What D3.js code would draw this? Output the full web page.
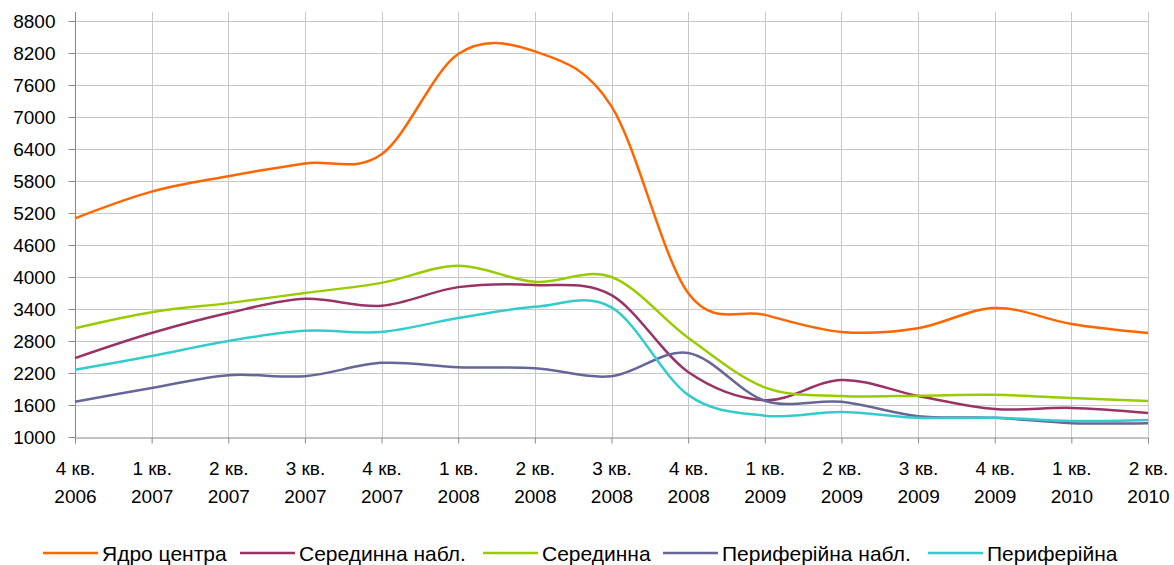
<!DOCTYPE html>
<html>
<head>
<meta charset="utf-8">
<script src="https://cdn.jsdelivr.net/npm/d3@7"></script>
<style>
  body { margin: 0; background: #fff; }
  text { font-family: "Liberation Sans", Arial, sans-serif; fill: #000; }
</style>
</head>
<body>
<div id="chart"></div>
<script>
const quarters = [`4 кв.`, `1 кв.`, `2 кв.`, `3 кв.`, `4 кв.`, `1 кв.`, `2 кв.`, `3 кв.`, `4 кв.`, `1 кв.`, `2 кв.`, `3 кв.`, `4 кв.`, `1 кв.`, `2 кв.`];
const years = [`2006`, `2007`, `2007`, `2007`, `2007`, `2008`, `2008`, `2008`, `2008`, `2009`, `2009`, `2009`, `2009`, `2010`, `2010`];
const yTicks = [1000, 1600, 2200, 2800, 3400, 4000, 4600, 5200, 5800, 6400, 7000, 7600, 8200, 8800];

const seriesNames = [`Ядро центра`, `Серединна набл.`, `Серединна`, `Периферійна набл.`, `Периферійна`];
const coreCenter = [5100, 5600, 5890, 6130, 6300, 8180, 8230, 7200, 3700, 3290, 2970, 3040, 3420, 3120, 2950];
const middleObs = [2480, 2950, 3325, 3590, 3460, 3810, 3850, 3660, 2220, 1690, 2070, 1770, 1525, 1545, 1450];
const middle = [3040, 3340, 3510, 3700, 3890, 4210, 3910, 4000, 2860, 1930, 1770, 1775, 1790, 1730, 1675];
const peripheryObs = [1660, 1920, 2160, 2140, 2390, 2310, 2290, 2140, 2575, 1680, 1660, 1390, 1360, 1260, 1260];
const periphery = [2260, 2520, 2800, 2990, 2970, 3230, 3440, 3430, 1790, 1400, 1470, 1360, 1360, 1300, 1320];
const colors = [`#FF6600`, `#993366`, `#99CC00`, `#666699`, `#33CCCC`];

const allSeries = [coreCenter, middleObs, middle, peripheryObs, periphery];

const width = 1174;
const height = 565;
const plotLeft = 75;
const plotRight = 1148;
const plotTop = 12;
const plotBottom = 437;

const svg = d3.select(`#chart`).append(`svg`)
  .attr(`width`, width)
  .attr(`height`, height);

const x = d3.scalePoint().domain(d3.range(quarters.length)).range([plotLeft, plotRight]);
const y = d3.scaleLinear().domain([1000, 8800]).range([plotBottom, plotTop + 9]);

// grid
svg.append(`g`).selectAll(`line`).data(yTicks.slice(1)).enter().append(`line`)
  .attr(`x1`, plotLeft).attr(`x2`, plotRight)
  .attr(`y1`, (d) => Math.round(y(d)) + 0.5).attr(`y2`, (d) => Math.round(y(d)) + 0.5)
  .attr(`stroke`, `#c8c8c8`).attr(`stroke-width`, 1);
svg.append(`g`).selectAll(`line`).data(d3.range(1, quarters.length)).enter().append(`line`)
  .attr(`x1`, (d) => Math.round(x(d)) + 0.5).attr(`x2`, (d) => Math.round(x(d)) + 0.5)
  .attr(`y1`, plotTop).attr(`y2`, plotBottom)
  .attr(`stroke`, `#c8c8c8`).attr(`stroke-width`, 1);

// axes
const yAxis = svg.append(`g`)
  .attr(`transform`, `translate(${plotLeft + 0.5},0)`)
  .call(d3.axisLeft(y).tickValues(yTicks).tickSize(7).tickFormat(d3.format(`d`)));
yAxis.select(`.domain`).attr(`d`, `M0,${plotTop}V${plotBottom}`).attr(`stroke`, `#888`);
yAxis.selectAll(`.tick line`).attr(`stroke`, `#888`);
yAxis.selectAll(`.tick text`).attr(`x`, -20).style(`font-size`, `19px`)
  .style(`font-family`, `"Liberation Sans", Arial, sans-serif`).attr(`fill`, `#000`);

const xAxis = svg.append(`g`)
  .attr(`transform`, `translate(0,${plotBottom + 0.5})`)
  .call(d3.axisBottom(x).tickSize(6).tickFormat(() => ``));
xAxis.select(`.domain`).attr(`stroke`, `#888`);
xAxis.selectAll(`.tick line`).attr(`stroke`, `#888`);
xAxis.selectAll(`.tick`).each(function (d) {
  const t = d3.select(this).select(`text`)
    .attr(`y`, 0).attr(`dy`, null)
    .style(`font-size`, `19px`)
    .style(`font-family`, `"Liberation Sans", Arial, sans-serif`)
    .attr(`fill`, `#000`);
  t.append(`tspan`).attr(`x`, 0).attr(`y`, 37.5).text(quarters[d]);
  t.append(`tspan`).attr(`x`, 0).attr(`y`, 65.5).text(years[d]);
});

// lines
const line = d3.line()
  .x((d, i) => x(i))
  .y((d) => y(d))
  .curve(d3.curveCatmullRom.alpha(0));

svg.append(`g`).selectAll(`path`).data(allSeries).enter().append(`path`)
  .attr(`d`, (d) => line(d))
  .attr(`fill`, `none`)
  .attr(`stroke`, (d, i) => colors[i])
  .attr(`stroke-width`, 2.5)
  .attr(`stroke-linejoin`, `round`);

// legend
const legend = svg.append(`g`).attr(`transform`, `translate(0,553)`);
const legendPos = [43, 240, 483, 663, 928];
seriesNames.forEach((name, i) => {
  const g = legend.append(`g`).attr(`transform`, `translate(${legendPos[i]},0)`);
  g.append(`line`).attr(`x1`, 0).attr(`x2`, 55).attr(`y1`, 0).attr(`y2`, 0)
    .attr(`stroke`, colors[i]).attr(`stroke-width`, 2.5);
  g.append(`text`).attr(`x`, 59).attr(`y`, 7.5).style(`font-size`, `21px`).text(name);
});
</script>
</body>
</html>
